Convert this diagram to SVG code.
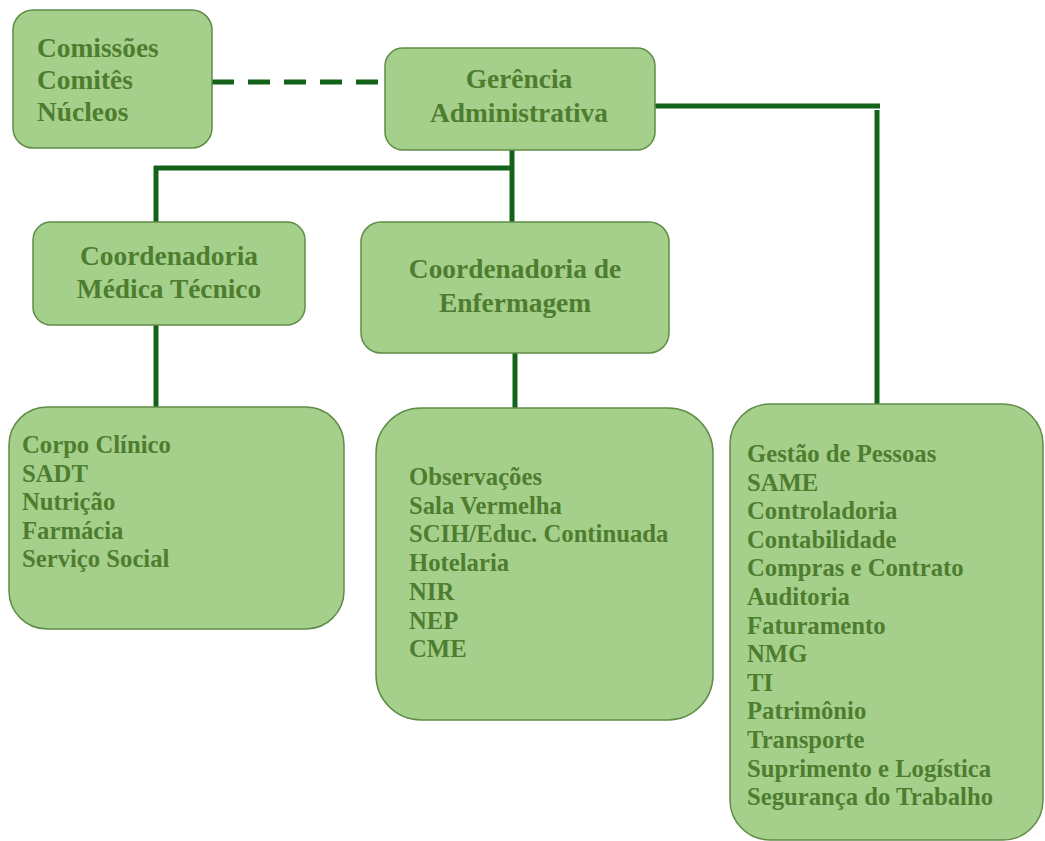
<svg xmlns="http://www.w3.org/2000/svg" width="1045" height="841" viewBox="0 0 1045 841">
<style>
.box{fill:#a5d08b;stroke:#5f8c47;stroke-width:1.5}
.t{font-family:"Liberation Serif","Times New Roman",serif;font-weight:bold;fill:#4e7d2f}
.h{font-size:27.4px}
.c{text-anchor:middle}
.l{font-size:24.7px}
.con{stroke:#13621a;stroke-width:5;fill:none}
</style>
<rect width="1045" height="841" fill="#ffffff"/>
<g id="connectors">
<line class="con" x1="212" y1="82" x2="385" y2="82" stroke-dasharray="22 14"/>
<line class="con" x1="655" y1="106" x2="880" y2="106"/>
<line class="con" x1="877" y1="110" x2="877" y2="404"/>
<line class="con" x1="512" y1="150" x2="512" y2="222"/>
<line class="con" x1="154" y1="168" x2="512" y2="168"/>
<line class="con" x1="156" y1="166" x2="156" y2="222"/>
<line class="con" x1="156" y1="325" x2="156" y2="407"/>
<line class="con" x1="515" y1="353" x2="515" y2="408"/>
</g>
<g id="comissoes">
<rect class="box" x="13" y="10" width="199" height="138" rx="20"/>
<text class="t h" x="37" y="57">Comissões</text>
<text class="t h" x="37" y="89">Comitês</text>
<text class="t h" x="37" y="121">Núcleos</text>
</g>
<g id="gerencia">
<rect class="box" x="385" y="48" width="270" height="102" rx="18"/>
<text class="t h c" x="519" y="88">Gerência</text>
<text class="t h c" x="519" y="122">Administrativa</text>
</g>
<g id="coord-medica">
<rect class="box" x="33" y="222" width="272" height="103" rx="18"/>
<text class="t h c" x="169" y="265">Coordenadoria</text>
<text class="t h c" x="169" y="298">Médica Técnico</text>
</g>
<g id="coord-enfermagem">
<rect class="box" x="361" y="222" width="308" height="131" rx="20"/>
<text class="t h c" x="515" y="278">Coordenadoria de</text>
<text class="t h c" x="515" y="312">Enfermagem</text>
</g>
<g id="medica-lista">
<rect class="box" x="9" y="407" width="335" height="222" rx="38"/>
<text class="t l" x="22" y="453">Corpo Clínico</text>
<text class="t l" x="22" y="481.5">SADT</text>
<text class="t l" x="22" y="510">Nutrição</text>
<text class="t l" x="22" y="538.5">Farmácia</text>
<text class="t l" x="22" y="567">Serviço Social</text>
</g>
<g id="enfermagem-lista">
<rect class="box" x="376" y="408" width="337" height="312" rx="45"/>
<text class="t l" x="409" y="485">Observações</text>
<text class="t l" x="409" y="513.7">Sala Vermelha</text>
<text class="t l" x="409" y="542.4">SCIH/Educ. Continuada</text>
<text class="t l" x="409" y="571.1">Hotelaria</text>
<text class="t l" x="409" y="599.8">NIR</text>
<text class="t l" x="409" y="628.5">NEP</text>
<text class="t l" x="409" y="657.2">CME</text>
</g>
<g id="administrativa-lista">
<rect class="box" x="730" y="404" width="313" height="436" rx="40"/>
<text class="t l" x="747" y="462">Gestão de Pessoas</text>
<text class="t l" x="747" y="490.6">SAME</text>
<text class="t l" x="747" y="519.2">Controladoria</text>
<text class="t l" x="747" y="547.8">Contabilidade</text>
<text class="t l" x="747" y="576.4">Compras e Contrato</text>
<text class="t l" x="747" y="605">Auditoria</text>
<text class="t l" x="747" y="633.6">Faturamento</text>
<text class="t l" x="747" y="662.2">NMG</text>
<text class="t l" x="747" y="690.8">TI</text>
<text class="t l" x="747" y="719.4">Patrimônio</text>
<text class="t l" x="747" y="748">Transporte</text>
<text class="t l" x="747" y="776.6">Suprimento e Logística</text>
<text class="t l" x="747" y="805.2">Segurança do Trabalho</text>
</g>
</svg>
